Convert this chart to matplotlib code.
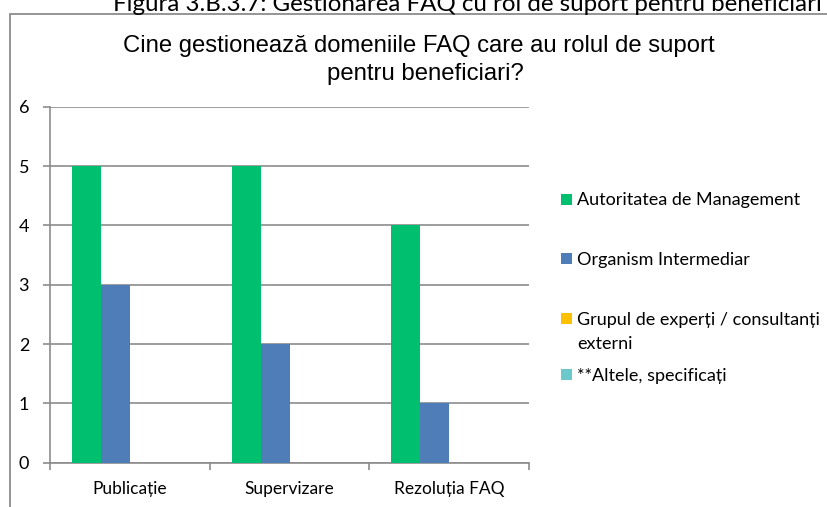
import matplotlib
matplotlib.use("Agg")
import matplotlib.pyplot as plt
import numpy as np
from matplotlib.patches import Rectangle

# Date
categorii = ["Publicație", "Supervizare", "Rezoluția FAQ"]
serii = ["Autoritatea de Management", "Organism Intermediar",
         "Grupul de experți / consultanți\nexterni", "**Altele, specificați"]
autoritate = [5, 5, 4]
organism = [3, 2, 1]
experti = [0, 0, 0]
altele = [0, 0, 0]
culori = ["#00BF6F", "#4F7DB8", "#FFC000", "#6CC9CB"]
y_ticks = [0, 1, 2, 3, 4, 5, 6]

plt.rcParams['font.family'] = ['Lato', 'DejaVu Sans']

W, H = 828, 507
fig = plt.figure(figsize=(W / 100, H / 100), dpi=100)
ax = fig.add_axes([50 / W, 1 - 462.7 / H, 479 / W, 356 / H])

x = np.arange(len(categorii))
w = 0.181
valori = [autoritate, organism, experti, altele]
for i, (vals, c, lab) in enumerate(zip(valori, culori, serii)):
    ax.bar(x + (i - 1.5) * w, vals, w, color=c, label=lab, zorder=3)

ax.set_xlim(-0.5, 2.5)
ax.set_ylim(0, 6)
ax.set_yticks(y_ticks)
ax.yaxis.grid(True, color="#8c8c8c", linewidth=1.2, zorder=0)
ax.set_xticks(x)
ax.set_xticklabels(categorii, fontsize=12.5)
ax.set_xticks([-0.5, 0.5, 1.5, 2.5], minor=True)
ax.tick_params(axis="x", which="major", length=0, pad=13)
ax.tick_params(axis="x", which="minor", length=5, color="#8c8c8c", width=1.2)
ax.tick_params(axis="y", length=5, color="#8c8c8c", width=1.2, labelsize=13, pad=10)
for s in ["top", "right"]:
    ax.spines[s].set_visible(False)
for s in ["left", "bottom"]:
    ax.spines[s].set_color("#8c8c8c")
    ax.spines[s].set_linewidth(1.2)

# legenda desenata manual (spatiere ca in Excel)
leg_y = [199, 258, 318.5, 374]
for c, lab, yy in zip(culori, serii, leg_y):
    fig.patches.append(Rectangle((561 / W, 1 - (yy + 5.5) / H), 11 / W, 11 / H,
                                 transform=fig.transFigure, facecolor=c, edgecolor="none"))
    for k, rand in enumerate(lab.split("\n")):
        fig.text(577 / W, 1 - (yy + 6.5 + 24 * k) / H, rand, fontsize=13, ha="left", va="baseline")

fig.text(113 / W, 1 - 11 / H, "Figura 3.B.3.7: Gestionarea FAQ cu rol de suport pentru beneficiari",
         ha="left", va="baseline", fontsize=17.4)
fig.text(419 / W, 1 - 52 / H, "Cine gestionează domeniile FAQ care au rolul de suport",
         family=["Liberation Sans", "DejaVu Sans"], ha="center", va="baseline", fontsize=17.2)
fig.text(425 / W, 1 - 80 / H, "pentru beneficiari?",
         family=["Liberation Sans", "DejaVu Sans"], ha="center", va="baseline", fontsize=17.2)

fig.patches.append(Rectangle((10 / W, -0.1), 1.0, 1.1 - 14 / H, transform=fig.transFigure,
                             fill=False, edgecolor="#8c8c8c", linewidth=1.3))

fig.savefig("out.png", dpi=100)
